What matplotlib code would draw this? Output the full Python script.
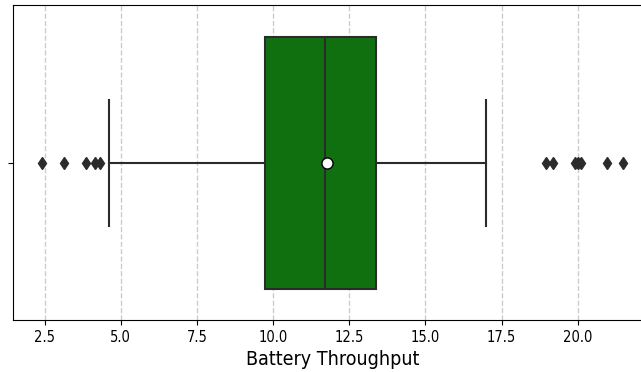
import matplotlib
matplotlib.use("Agg")
import matplotlib.pyplot as plt

# box statistics
q1 = 9.72
median = 11.69
q3 = 13.37
mean = 11.76
whisker_low = 4.6
whisker_high = 17.0
fliers = [2.4, 3.12, 3.85, 4.15, 4.32, 18.95, 19.2, 19.92, 20.02, 20.12, 20.95, 21.5]
xticks = [2.5, 5.0, 7.5, 10.0, 12.5, 15.0, 17.5, 20.0]

stats = [{
    "q1": q1, "med": median, "q3": q3, "mean": mean,
    "whislo": whisker_low, "whishi": whisker_high, "fliers": fliers,
}]

fig = plt.figure(figsize=(6.41, 3.72), dpi=100)
ax = fig.add_axes([12.5 / 641, 52 / 372, 640 / 641, 315 / 372])

edge = "#2b2b2b"
ax.bxp(
    stats, positions=[0], widths=0.8, vert=False, patch_artist=True,
    showmeans=True,
    boxprops=dict(facecolor="#107010", edgecolor=edge, linewidth=1.5),
    medianprops=dict(color=edge, linewidth=1.5),
    whiskerprops=dict(color=edge, linewidth=1.5),
    capprops=dict(color=edge, linewidth=1.5),
    capwidths=0.4,
    flierprops=dict(marker="d", markerfacecolor=edge, markeredgecolor=edge, markersize=6),
    meanprops=dict(marker="o", markerfacecolor="white", markeredgecolor="black", markersize=8),
)

ax.set_ylim(0.5, -0.5)
ax.set_xlim(1.445, 22.455)
ax.spines["right"].set_visible(False)
ax.set_yticks([0])
ax.set_yticklabels([""])
ax.set_xticks(xticks)
for lbl in ax.get_xticklabels():
    lbl.set_fontsize(10.5)
    lbl.set_fontstretch("condensed")
ax.xaxis.grid(True, linestyle="--", color="#cccccc", linewidth=1)
ax.set_axisbelow(True)
ax.set_xlabel("Battery Throughput", fontsize=14, fontstretch="condensed")

fig.savefig("out.png", dpi=100)
